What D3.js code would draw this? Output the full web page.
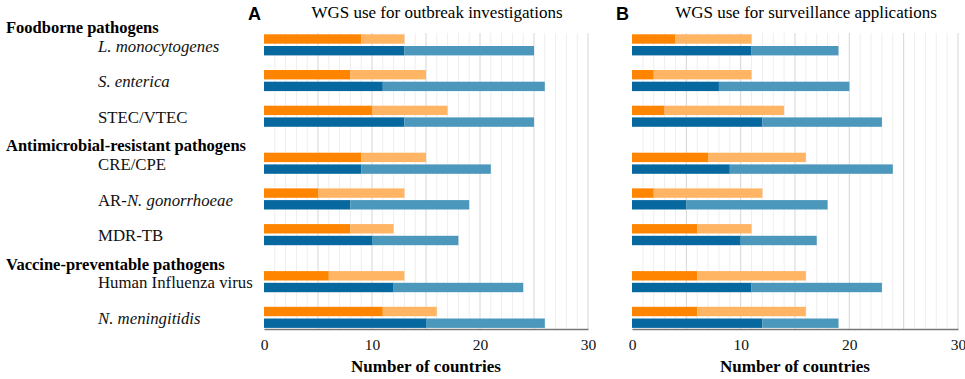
<!DOCTYPE html>
<html>
<head>
<meta charset="utf-8">
<script src="https://cdn.jsdelivr.net/npm/d3@7"></script>
<style>
  body { margin: 0; background: #fff; }
  svg { display: block; font-family: "Liberation Serif", "Times New Roman", serif; }
</style>
</head>
<body>
<svg id="chart" width="965" height="379"></svg>
<script>
// Rows of the chart and the section each one belongs to
const pathogens = ["L. monocytogenes", "S. enterica", "STEC/VTEC", "CRE/CPE",
  "AR-N. gonorrhoeae", "MDR-TB", "Human Influenza virus", "N. meningitidis"];
const sections = ["Foodborne pathogens", "Antimicrobial-resistant pathogens", "Vaccine-preventable pathogens"];
const sectionOf = [0, 0, 0, 1, 1, 1, 2, 2];

// Panel A - outbreak investigations (segment lengths, number of countries)
const outbreakOrangeDark = [9, 8, 10, 9, 5, 8, 6, 11];
const outbreakOrangeLight = [4, 7, 7, 6, 8, 4, 7, 5];
const outbreakBlueDark = [13, 11, 13, 9, 8, 10, 12, 15];
const outbreakBlueLight = [12, 15, 12, 12, 11, 8, 12, 11];

// Panel B - surveillance applications
const survOrangeDark = [4, 2, 3, 7, 2, 6, 6, 6];
const survOrangeLight = [7, 9, 11, 9, 10, 5, 10, 10];
const survBlueDark = [11, 8, 12, 9, 5, 10, 11, 12];
const survBlueLight = [8, 12, 11, 15, 13, 7, 12, 7];

const xTicks = [0, 10, 20, 30];
const panelTitles = ["WGS use for outbreak investigations", "WGS use for surveillance applications"];
const panelLetters = ["A", "B"];

// ---- layout ----
const plotTop = 33, plotBottom = 329;
const panels = [
  { x0: 264, x1: 588, od: outbreakOrangeDark, ol: outbreakOrangeLight, bd: outbreakBlueDark, bl: outbreakBlueLight },
  { x0: 632, x1: 958, od: survOrangeDark, ol: survOrangeLight, bd: survBlueDark, bl: survBlueLight }
];
const colors = { od: "#ff8400", ol: "#ffb564", bd: "#0768a0", bl: "#4c97bc" };

const sectionGap = 0.317;
const slot = pathogens.map((p, i) => i + sectionOf[i] * sectionGap);
const y = d3.scaleLinear().domain([0, d3.max(slot)]).range([44.8, 317.3]);
const barH = 9.4;

const itemShift = 1;
const headerShift = -17.5;
const italicParts = [
  [["L. monocytogenes", true]],
  [["S. enterica", true]],
  [["STEC/VTEC", false]],
  [["CRE/CPE", false]],
  [["AR-", false], ["N. gonorrhoeae", true]],
  [["MDR-TB", false]],
  [["Human Influenza virus", false]],
  [["N. meningitidis", true]]
];

const svg = d3.select("#chart");

// left labels
const labels = svg.append("g");
labels.selectAll("text.item")
  .data(pathogens)
  .join("text")
  .attr("class", "item")
  .attr("x", 98)
  .attr("y", (d, i) => y(slot[i]) + itemShift)
  .attr("dy", "0.35em")
  .style("font-size", "16.8px")
  .attr("fill", "#111")
  .each(function(d, i) {
    const t = d3.select(this);
    italicParts[i].forEach(([txt, it]) => {
      t.append("tspan").text(txt).style("font-style", it ? "italic" : "normal");
    });
  });

labels.selectAll("text.sec")
  .data(sections)
  .join("text")
  .attr("class", "sec")
  .attr("x", 6)
  .attr("y", (d, s) => y(slot[sectionOf.indexOf(s)]) + headerShift)
  .attr("dy", "0.35em")
  .style("font-size", "16.5px")
  .style("font-weight", "bold")
  .attr("fill", "#000")
  .text(d => d);

panels.forEach((p, k) => {
  const x = d3.scaleLinear().domain([0, 30]).range([p.x0, p.x1]);
  const g = svg.append("g");

  // gridlines: light every unit, darker every 5
  g.selectAll("line.minor")
    .data(d3.range(1, 31))
    .join("line")
    .attr("x1", d => x(d)).attr("x2", d => x(d))
    .attr("y1", plotTop).attr("y2", plotBottom)
    .attr("stroke", d => d % 5 === 0 ? "#d6d6d6" : "#eeeeee")
    .attr("stroke-width", 1);

  const rows = pathogens.map((name, i) => ({
    i, od: p.od[i], ol: p.ol[i], bd: p.bd[i], bl: p.bl[i]
  }));

  const segs = [];
  rows.forEach(r => {
    const c = y(slot[r.i]);
    segs.push({ x0: 0, x1: r.od, y: c - 10.5, col: colors.od });
    segs.push({ x0: r.od, x1: r.od + r.ol, y: c - 10.5, col: colors.ol });
    segs.push({ x0: 0, x1: r.bd, y: c + 1.2, col: colors.bd });
    segs.push({ x0: r.bd, x1: r.bd + r.bl, y: c + 1.2, col: colors.bl });
  });

  g.selectAll("rect")
    .data(segs)
    .join("rect")
    .attr("x", d => x(d.x0))
    .attr("width", d => x(d.x1) - x(d.x0))
    .attr("y", d => d.y)
    .attr("height", barH)
    .attr("fill", d => d.col);

  // bottom axis
  const axis = d3.axisBottom(x).tickValues(xTicks).tickSize(0).tickPadding(10);
  const ax = g.append("g").attr("transform", "translate(0," + plotBottom + ")").call(axis);
  ax.attr("font-family", null);
  ax.select(".domain").attr("stroke", "#777").attr("stroke-width", 1.5);
  ax.selectAll("text")
    .style("font-size", "15.5px")
    .attr("fill", "#111");

  g.append("text")
    .attr("x", (p.x0 + p.x1) / 2)
    .attr("y", 372)
    .attr("text-anchor", "middle")
    .style("font-size", "17px")
    .style("font-weight", "bold")
    .text("Number of countries");

  g.append("text")
    .attr("x", (p.x0 + p.x1) / 2 + 11)
    .attr("y", 18)
    .attr("text-anchor", "middle")
    .style("font-size", "17px")
    .text(panelTitles[k]);

  g.append("text")
    .attr("x", p.x0 - 16)
    .attr("y", 20)
    .style("font-family", "Liberation Sans, Arial, sans-serif")
    .style("font-size", "18px")
    .style("font-weight", "bold")
    .text(panelLetters[k]);
});
</script>
</body>
</html>
